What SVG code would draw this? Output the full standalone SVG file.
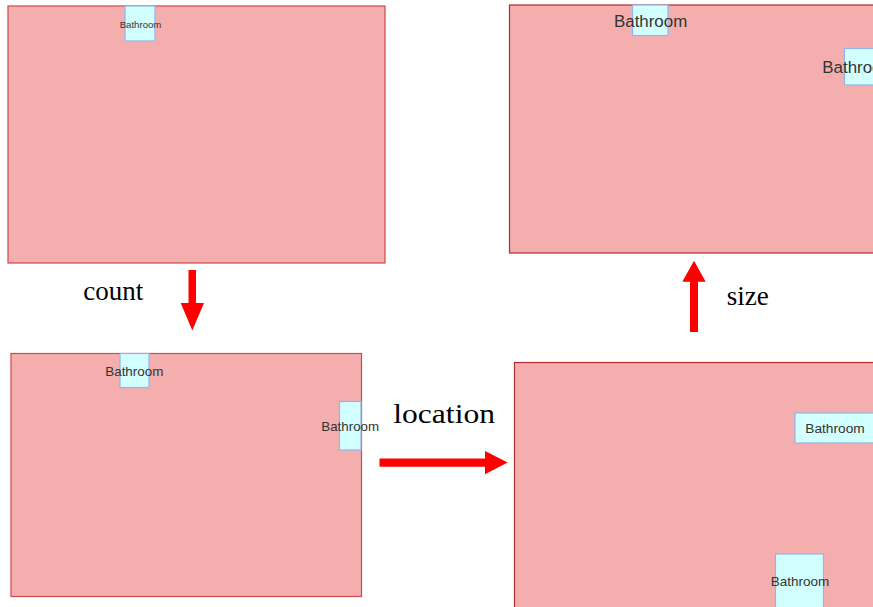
<svg xmlns="http://www.w3.org/2000/svg" width="873" height="607" viewBox="0 0 873 607">
<style>
.plan{fill:#f4aeae;stroke:#cc4a4a;stroke-width:1.2}
.plan2{fill:#f4aeae;stroke:#b52a2a;stroke-width:1.2}
.bath{fill:#d2ffff;stroke:#8fb4ee;stroke-width:1.2}
.bt{font-family:"Liberation Sans",Arial,sans-serif;fill:#333;text-anchor:middle}
.lbl{font-family:"Liberation Serif","Times New Roman",serif;font-size:27px;fill:#000}
.arr{fill:#ff0000}
</style>
<rect width="873" height="607" fill="#fff"/>
<g id="plan-original">
<rect class="plan" x="8" y="6" width="377" height="257"/>
<g id="bath-o1"><rect class="bath" x="125" y="6" width="30" height="35"/><text class="bt" x="140.5" y="27.5" font-size="9.6">Bathroom</text></g>
</g>
<g id="plan-count">
<rect class="plan" x="11" y="353.5" width="350.5" height="243"/>
<g id="bath-c1"><rect class="bath" x="120" y="353.5" width="29" height="34"/><text class="bt" x="134.3" y="375.7" font-size="13.4">Bathroom</text></g>
<g id="bath-c2"><rect class="bath" x="339.5" y="401.5" width="21.5" height="48.5"/><text class="bt" x="350.2" y="430.7" font-size="13.3">Bathroom</text></g>
</g>
<g id="plan-location">
<rect class="plan2" x="514.5" y="362.5" width="360" height="250"/>
<g id="bath-l1"><rect class="bath" x="795" y="413" width="80" height="30"/><text class="bt" x="835" y="433.3" font-size="13.7">Bathroom</text></g>
<g id="bath-l2"><rect class="bath" x="775.5" y="554" width="48" height="60"/><text class="bt" x="800" y="586" font-size="13.5">Bathroom</text></g>
</g>
<g id="plan-size">
<rect class="plan2" x="509.5" y="5" width="365" height="248"/>
<g id="bath-s1"><rect class="bath" x="632.5" y="5" width="35.5" height="30.5"/><text class="bt" x="650.6" y="26.7" font-size="16.9">Bathroom</text></g>
<g id="bath-s2"><rect class="bath" x="844.5" y="48.5" width="32" height="36.5"/><text class="bt" x="858.9" y="72.7" font-size="16.9">Bathroom</text></g>
</g>
<g id="connectors">
<polygon class="arr" points="188.5,270 196,270 196,303 204,303 192.3,330.5 180.7,303 188.5,303"/>
<polygon class="arr" points="379.5,458.5 485,458.5 485,451 507.7,462.6 485,474.3 485,466.7 379.5,466.7"/>
<polygon class="arr" points="690,332 698,332 698,281.7 705.7,281.7 694,260.7 682.3,281.7 690,281.7"/>
<text class="lbl" x="83.3" y="300">count</text>
<text class="lbl" x="393.3" y="423.3" textLength="101.7" lengthAdjust="spacingAndGlyphs">location</text>
<text class="lbl" x="726.7" y="305">size</text>
</g>
</svg>
